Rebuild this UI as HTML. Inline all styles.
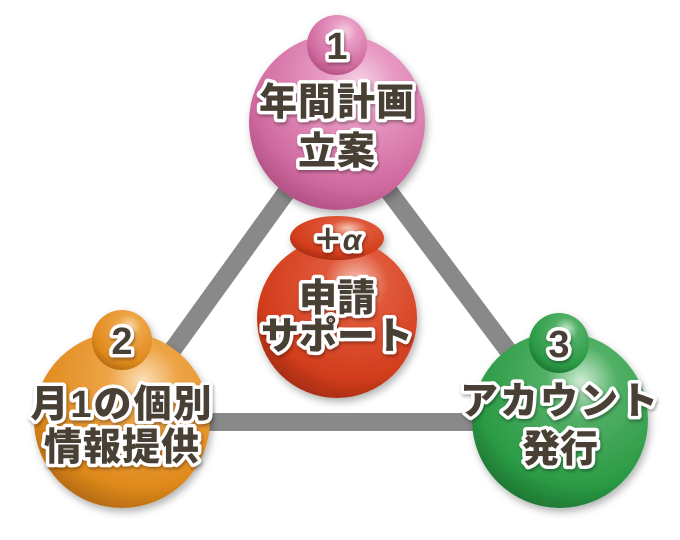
<!DOCTYPE html>
<html><head><meta charset="utf-8"><style>
html,body{margin:0;padding:0;background:#fff;width:680px;height:540px;overflow:hidden}
svg text{font-family:"Liberation Sans","Noto Sans CJK JP",sans-serif;font-weight:900;fill:#4a4036;stroke:#fff;stroke-width:7px;stroke-linejoin:round;paint-order:stroke;text-anchor:middle}
</style></head><body>
<svg width="680" height="540" viewBox="0 0 680 540" xmlns="http://www.w3.org/2000/svg">
<defs>
<radialGradient id="gp" cx="0.62" cy="0.28" r="0.8"><stop offset="0" stop-color="#f6d3e6"/><stop offset="0.25" stop-color="#e89bc4"/><stop offset="0.75" stop-color="#d0699f"/><stop offset="1" stop-color="#a94a7c"/></radialGradient>
<radialGradient id="go" cx="0.62" cy="0.28" r="0.8"><stop offset="0" stop-color="#fbe0b8"/><stop offset="0.25" stop-color="#eea446"/><stop offset="0.75" stop-color="#e08a1c"/><stop offset="1" stop-color="#a8620e"/></radialGradient>
<radialGradient id="gg" cx="0.62" cy="0.28" r="0.8"><stop offset="0" stop-color="#cfecd4"/><stop offset="0.25" stop-color="#52b066"/><stop offset="0.75" stop-color="#2a9a44"/><stop offset="1" stop-color="#1b6c2e"/></radialGradient>
<radialGradient id="gr" cx="0.62" cy="0.28" r="0.8"><stop offset="0" stop-color="#f6c7b8"/><stop offset="0.25" stop-color="#e0583a"/><stop offset="0.75" stop-color="#d23d1c"/><stop offset="1" stop-color="#982810"/></radialGradient>
<filter id="sh" x="-20%" y="-20%" width="140%" height="140%"><feDropShadow dx="2" dy="4" stdDeviation="4" flood-color="#000" flood-opacity="0.3"/></filter>
<filter id="ts"><feDropShadow dx="1" dy="2" stdDeviation="1.5" flood-color="#000" flood-opacity="0.35"/></filter>
</defs>
<g stroke="#898989" stroke-width="18" fill="none">
<line x1="337" y1="122" x2="122" y2="420"/>
<line x1="337" y1="122" x2="560" y2="420"/>
<line x1="122" y1="422" x2="560" y2="422"/>
</g>
<g filter="url(#sh)">
<circle cx="337" cy="122" r="88" fill="url(#gp)"/>
<circle cx="337" cy="45" r="30" fill="url(#gp)"/>
<circle cx="122" cy="420" r="88" fill="url(#go)"/>
<circle cx="122" cy="340" r="30" fill="url(#go)"/>
<circle cx="560" cy="420" r="88" fill="url(#gg)"/>
<circle cx="559" cy="343" r="30" fill="url(#gg)"/>
<circle cx="337" cy="318" r="80" fill="url(#gr)"/>
<ellipse cx="337" cy="238" rx="47" ry="22" fill="url(#gr)"/>
</g>
<g filter="url(#ts)">
<text x="337" y="59" font-size="38">1</text>
<text x="337" y="115" font-size="38" letter-spacing="1">年間計画</text>
<text x="337" y="164" font-size="38" letter-spacing="1">立案</text>
<text x="337" y="250" font-size="30"><tspan>＋</tspan><tspan font-style="italic">α</tspan></text>
<text x="337" y="311" font-size="38">申請</text>
<text x="337" y="349" font-size="38">サポート</text>
<text x="122" y="354" font-size="38">2</text>
<text x="122" y="417" font-size="38" letter-spacing="2">月1の個別</text>
<text x="122" y="460" font-size="38" letter-spacing="1">情報提供</text>
<text x="559" y="357" font-size="38">3</text>
<text x="560" y="414" font-size="38" letter-spacing="2">アカウント</text>
<text x="560" y="462" font-size="38">発行</text>
</g>
</svg>
</body></html>
